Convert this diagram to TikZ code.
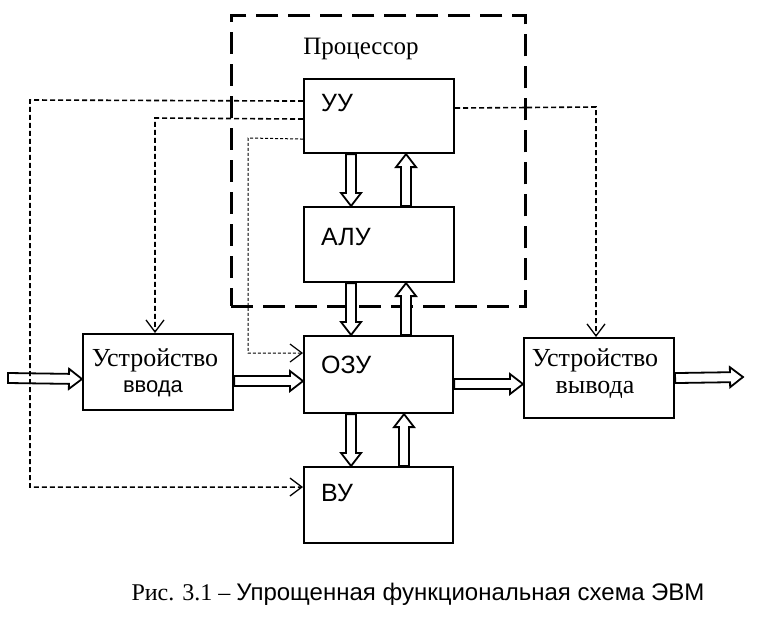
\documentclass[tikz,border=0pt]{standalone}
\usepackage{fontspec}
\setmainfont{Liberation Serif}
\newfontfamily\sansf{Liberation Sans}
\usetikzlibrary{calc,arrows.meta}
\newcommand\hollowarrow[2]{%
  \coordinate (hbase) at ($#2!13pt!#1$);
  \draw[blk] ($#1!5pt!90:#2$) -- ($(hbase)!5pt!90:#2$) -- ($(hbase)!10pt!90:#2$) -- #2
    -- ($(hbase)!10pt!-90:#2$) -- ($(hbase)!5pt!-90:#2$) -- ($#1!5pt!-90:#2$) -- cycle;}
\tikzset{
  box/.style={draw, line width=2.1pt, minimum width=150pt, minimum height=75pt, anchor=north west, inner sep=0pt},
  procbox/.style={draw, line width=2.8pt, dash pattern=on 22pt off 10pt, anchor=north west, inner sep=0pt},
  blk/.style={draw, fill=white, line width=1.8pt, line join=miter},
  ctl/.style={line width=1.6pt, dash pattern=on 5pt off 3pt, -{Straight Barb[length=12pt,width=18pt,line width=1.3pt]}},
  ctlfine/.style={line width=1pt, dash pattern=on 3pt off 2pt, -{Straight Barb[length=12pt,width=18pt,line width=1.2pt]}},
  lab/.style={font=\sansf\fontsize{25}{28}\selectfont, anchor=west, inner sep=0pt},
  devt/.style={inner sep=0pt, font=\fontsize{26}{30}\selectfont}
}
\begin{document}
\begin{tikzpicture}[x=1pt,y=-1pt]
\useasboundingbox[fill=white] (0,0) rectangle (760,618);
% processor frame
\node[procbox, minimum width=294pt, minimum height=291pt] (proc) at (230,14) {};
\node[font=\fontsize{25}{28}\selectfont, inner sep=0pt] (proct) at (361,49) {Процессор};
% boxes
\node[box, minimum height=74pt] (uu) at (303,78) {};
\node[box] (alu) at (303,206) {};
\node[box, minimum width=149pt, minimum height=77pt] (ozu) at (303,335) {};
\node[box, minimum width=149pt, minimum height=76pt] (vu) at (303,466) {};
\node[box, minimum height=76pt] (vvod) at (82,333) {};
\node[box, minimum height=80pt] (vyvod) at (523,337) {};
% labels
\node[lab] (uut) at (321,103) {УУ};
\node[lab] (alut) at (321,237) {АЛУ};
\node[lab] (ozut) at (321,365) {ОЗУ};
\node[lab] (vut) at (321,493) {ВУ};
\node[devt] (vvodt1) at (155,360) {Устройство};
\node[devt, font=\sansf\fontsize{22}{26}\selectfont] (vvodt2) at (153,389) {ввода};
\node[devt] (vyvodt1) at (595,360) {Устройство};
\node[devt] (vyvodt2) at (595,390) {вывода};
% hollow data arrows
\coordinate (a1) at ($(uu.south)+(-28,0)$); \coordinate (a2) at ($(alu.north)+(-28,0)$);
\hollowarrow{(a1)}{(a2)}
\coordinate (a3) at ($(alu.north)+(27,0)$); \coordinate (a4) at ($(uu.south)+(27,0)$);
\hollowarrow{(a3)}{(a4)}
\coordinate (b1) at ($(alu.south)+(-28,0)$); \coordinate (b2) at ($(ozu.north)+(-27.5,0)$);
\hollowarrow{(b1)}{(b2)}
\coordinate (b3) at ($(ozu.north)+(27.5,0)$); \coordinate (b4) at ($(alu.south)+(27,0)$);
\hollowarrow{(b3)}{(b4)}
\coordinate (c1) at ($(ozu.south)+(-27.5,0)$); \coordinate (c2) at ($(vu.north)+(-27.5,0)$);
\hollowarrow{(c1)}{(c2)}
\coordinate (c3) at ($(vu.north)+(25.5,0)$); \coordinate (c4) at ($(ozu.south)+(25.5,0)$);
\hollowarrow{(c3)}{(c4)}
\coordinate (in0) at (8,378); \coordinate (in1) at ($(vvod.west)+(0,7)$);
\hollowarrow{(in0)}{(in1)}
\coordinate (d1) at ($(vvod.east)+(0,9)$); \coordinate (d2) at ($(ozu.west)+(0,6.5)$);
\hollowarrow{(d1)}{(d2)}
\coordinate (e1) at ($(ozu.east)+(0,9.5)$); \coordinate (e2) at ($(vyvod.west)+(0,6)$);
\hollowarrow{(e1)}{(e2)}
\coordinate (f1) at ($(vyvod.east)+(0,0)$); \coordinate (out0) at (743,377);
\hollowarrow{(f1)}{(out0)}
% control lines
\coordinate (k1) at (30,100);
\draw[ctl] ($(uu.west)+(0,-15)$) -- (k1) |- ($(vu.west)+(0,-18)$);
\coordinate (k2) at (155,118);
\draw[ctl] ($(uu.west)+(0,3)$) -- (k2) -- (k2 |- vvod.north);
\coordinate (k3) at (248,138);
\draw[ctlfine] ($(uu.west)+(0,23)$) -- (k3) |- ($(ozu.west)+(0,-21.5)$);
\coordinate (k4) at (596,107);
\draw[ctl] ($(uu.east)+(0,-8)$) -- (k4) -- (k4 |- vyvod.north);
% caption
\node[inner sep=0pt, font=\fontsize{24}{28}\selectfont] (cap) at (418,594) {Рис. 3.1 -- {\sansf Упрощенная функциональная схема ЭВМ}};
\end{tikzpicture}
\end{document}
